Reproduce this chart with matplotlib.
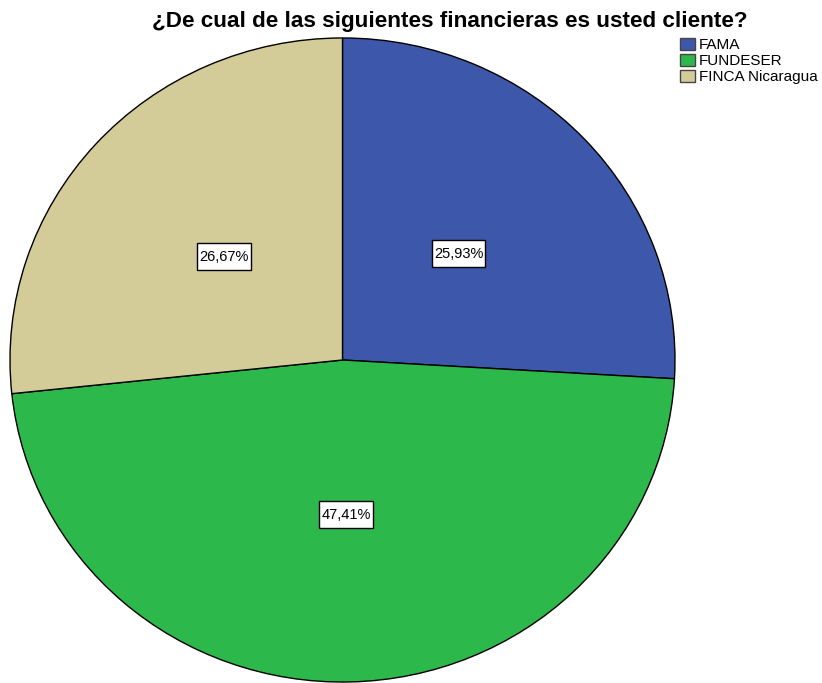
import matplotlib.pyplot as plt
from matplotlib.patches import Patch

# datos del grafico
categorias = ['FAMA', 'FUNDESER', 'FINCA Nicaragua']
porcentajes = [25.93, 47.41, 26.67]
colores = ['#3d58ab', '#2db84b', '#d3cc98']

plt.rcParams['font.family'] = ['Liberation Sans', 'DejaVu Sans']

fig = plt.figure(figsize=(8.22, 6.83), dpi=100)
ax = fig.add_axes([9 / 822, 0, 667 / 822, 646 / 683])

wedges, texts, autotexts = ax.pie(
    porcentajes, colors=colores, startangle=90, counterclock=False,
    autopct=lambda p: f'{p:.2f}%'.replace('.', ','), pctdistance=0.48,
    wedgeprops=dict(edgecolor='black', linewidth=1.0),
    textprops=dict(fontsize=10.5, color='black'))

# cajas blancas con borde negro alrededor de los porcentajes
for t in autotexts:
    t.set_bbox(dict(boxstyle='square,pad=0.15', facecolor='white',
                    edgecolor='black', linewidth=1.0, mutation_aspect=3.0))

ax.set_aspect('auto')
ax.set_xlim(-1.003, 1.003)
ax.set_ylim(-1.003, 1.003)

fig.text(450 / 822, 1 - 27 / 683, '¿De cual de las siguientes financieras es usted cliente?',
         ha='center', va='baseline', fontsize=16.2, fontweight='bold')

handles = [Patch(facecolor=c, edgecolor='#444444', label=l) for c, l in zip(colores, categorias)]
fig.legend(handles=handles, loc='upper left', bbox_to_anchor=(678 / 822, 1 - 36 / 683),
           frameon=False, fontsize=11, handlelength=1.0, handleheight=0.85,
           handletextpad=0.25, labelspacing=0.12, borderpad=0.1, borderaxespad=0)

fig.savefig('out.png', dpi=100)
